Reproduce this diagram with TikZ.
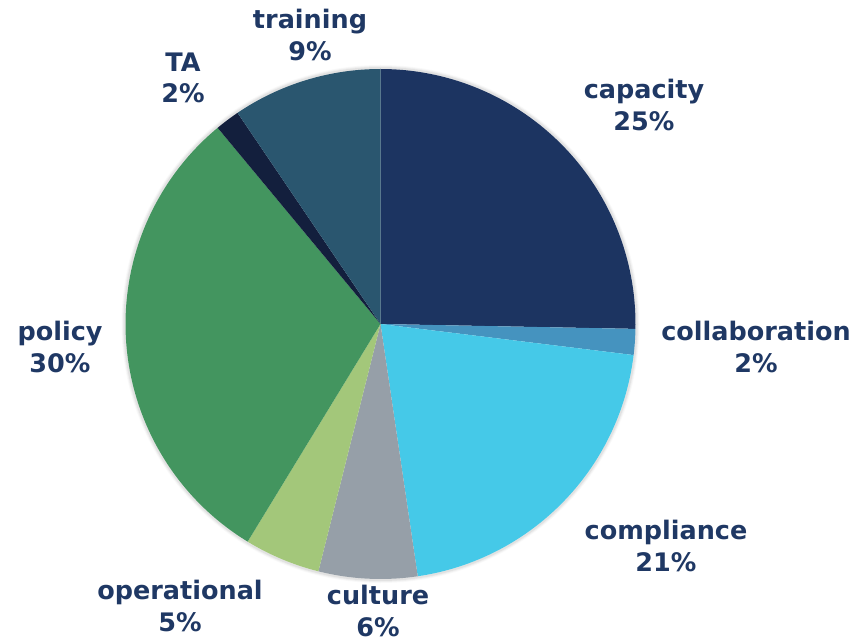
\documentclass[tikz,border=0pt]{standalone}
\usepackage{fontspec}
\setmainfont{DejaVu Sans}
\begin{document}
\begin{tikzpicture}[x=1pt,y=1pt,
  lbl/.style={text=labelcol,font=\bfseries\fontsize{25.5}{31.5}\selectfont,align=center,inner sep=0pt}]
\definecolor{labelcol}{HTML}{1F3864}
\definecolor{ccapacity}{HTML}{1C3461}
\definecolor{ccollab}{HTML}{4593BF}
\definecolor{ccompl}{HTML}{45C9E8}
\definecolor{cculture}{HTML}{969FA8}
\definecolor{coper}{HTML}{A3C77A}
\definecolor{cpolicy}{HTML}{43955F}
\definecolor{cta}{HTML}{131F3D}
\definecolor{ctrain}{HTML}{2A566F}
\useasboundingbox (0,0) rectangle (859,641);
\coordinate (c) at (380.5,317);
\def\R{255}
% soft shadow
\foreach \w/\o in {6/0.05,4/0.08,2/0.12}{
  \draw[gray,line width=\w pt,opacity=\o] (c) circle[radius=\R+1];
}
\fill[ccapacity] (c) -- ++(90:\R) arc[start angle=90,end angle=-1.1,radius=\R] -- cycle;
\fill[ccollab] (c) -- ++(-1.1:\R) arc[start angle=-1.1,end angle=-7,radius=\R] -- cycle;
\fill[ccompl] (c) -- ++(-7:\R) arc[start angle=-7,end angle=-81.6,radius=\R] -- cycle;
\fill[cculture] (c) -- ++(-81.6:\R) arc[start angle=-81.6,end angle=-104.1,radius=\R] -- cycle;
\fill[coper] (c) -- ++(-104.1:\R) arc[start angle=-104.1,end angle=-121.4,radius=\R] -- cycle;
\fill[cpolicy] (c) -- ++(-121.4:\R) arc[start angle=-121.4,end angle=-230.3,radius=\R] -- cycle;
\fill[cta] (c) -- ++(-230.3:\R) arc[start angle=-230.3,end angle=-235.9,radius=\R] -- cycle;
\fill[ctrain] (c) -- ++(-235.9:\R) arc[start angle=-235.9,end angle=-270,radius=\R] -- cycle;
% labels
\node[lbl] (training) at (310,606) {training\\9\%};
\node[lbl] (ta) at (183,563) {TA\\2\%};
\node[lbl] (capacity) at (644,536) {capacity\\25\%};
\node[lbl] (collab) at (756,294) {collaboration\\2\%};
\node[lbl] (compl) at (666,95) {compliance\\21\%};
\node[lbl] (culture) at (378,30) {culture\\6\%};
\node[lbl] (oper) at (180,35) {operational\\5\%};
\node[lbl] (policy) at (60,294) {policy\\30\%};
\end{tikzpicture}
\end{document}
